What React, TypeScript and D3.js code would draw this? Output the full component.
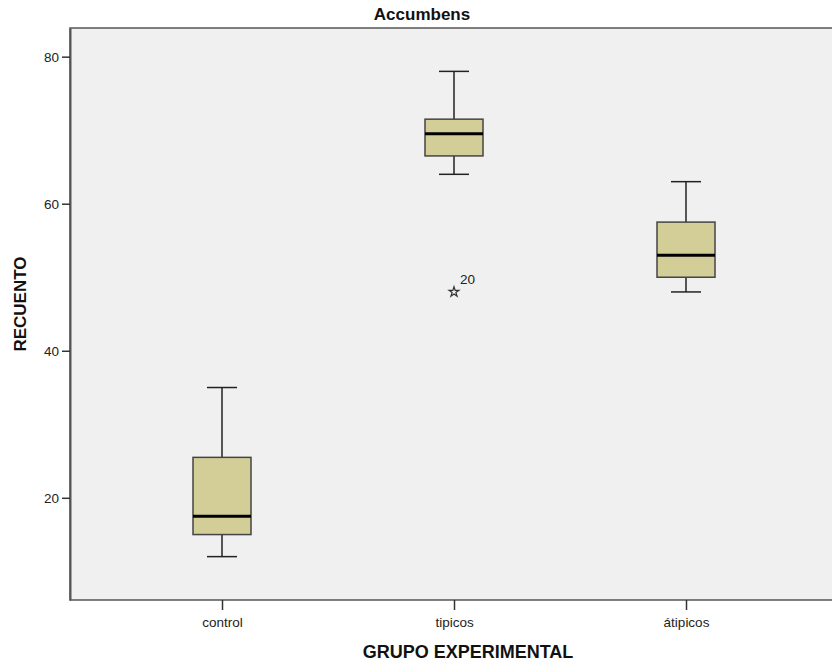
import React, { useEffect, useRef } from 'react';
import * as d3 from 'd3';

// Boxplot summary per group
const groups = ['control', 'tipicos', 'átipicos'];
const whiskerLow = [12, 64, 48];
const q1 = [15, 66.5, 50];
const median = [17.5, 69.5, 53];
const q3 = [25.5, 71.5, 57.5];
const whiskerHigh = [35, 78, 63];
const outliers = [{ group: 'tipicos', value: 48, label: '20' }];
const yTicks = [20, 40, 60, 80];

const W = 832;
const H = 663;

const App: React.FC = () => {
  const svgRef = useRef<SVGSVGElement>(null);

  useEffect(() => {
    document.body.style.margin = '0';
    if (!svgRef.current) return;
    const svg = d3.select(svgRef.current);
    svg.selectAll('*').remove();

    const left = 70;
    const top = 28;
    const bottom = 600;
    const font = '"Liberation Sans", Arial, sans-serif';

    const y = d3.scaleLinear().domain([6.1, 83.9]).range([bottom, top]);
    const x = d3.scalePoint<string>().domain(groups).range([222, 686]);

    // plot background + frame
    svg.append('rect')
      .attr('x', left).attr('y', top)
      .attr('width', W - left + 10).attr('height', bottom - top)
      .attr('fill', '#f0f0f0')
      .attr('stroke', '#555')
      .attr('stroke-width', 1.5);

    // y axis
    const yAxis = svg.append('g')
      .attr('transform', `translate(${left},0)`)
      .call(d3.axisLeft(y).tickValues(yTicks).tickSize(8).tickSizeOuter(0).tickPadding(3));
    yAxis.select('.domain').attr('stroke', '#555').attr('stroke-width', 2);
    yAxis.selectAll('.tick line').attr('stroke', '#333').attr('stroke-width', 1.5);
    yAxis.selectAll('.tick text')
      .attr('fill', '#222').style('font-family', font).style('font-size', '13.5px');

    // x axis
    const xAxis = svg.append('g')
      .attr('transform', `translate(0,${bottom})`)
      .call(d3.axisBottom(x).tickSize(10).tickPadding(7));
    xAxis.select('.domain').remove();
    xAxis.selectAll('.tick line').attr('stroke', '#333').attr('stroke-width', 1.5);
    xAxis.selectAll('.tick text')
      .attr('fill', '#222').style('font-family', font).style('font-size', '13.5px');

    // boxes
    const boxW = 58;
    const capW = 30;
    groups.forEach((g, i) => {
      const cx = x(g)!;
      const b = svg.append('g');
      b.append('line')
        .attr('x1', cx).attr('x2', cx)
        .attr('y1', y(whiskerHigh[i])).attr('y2', y(q3[i]))
        .attr('stroke', '#222').attr('stroke-width', 1.5);
      b.append('line')
        .attr('x1', cx).attr('x2', cx)
        .attr('y1', y(q1[i])).attr('y2', y(whiskerLow[i]))
        .attr('stroke', '#222').attr('stroke-width', 1.5);
      [whiskerHigh[i], whiskerLow[i]].forEach(v => {
        b.append('line')
          .attr('x1', cx - capW / 2).attr('x2', cx + capW / 2)
          .attr('y1', y(v)).attr('y2', y(v))
          .attr('stroke', '#222').attr('stroke-width', 1.5);
      });
      b.append('rect')
        .attr('x', cx - boxW / 2).attr('y', y(q3[i]))
        .attr('width', boxW).attr('height', y(q1[i]) - y(q3[i]))
        .attr('fill', '#d3ce97')
        .attr('stroke', '#444').attr('stroke-width', 1.5);
      b.append('line')
        .attr('x1', cx - boxW / 2).attr('x2', cx + boxW / 2)
        .attr('y1', y(median[i])).attr('y2', y(median[i]))
        .attr('stroke', '#000').attr('stroke-width', 3);
    });

    // extreme outliers
    outliers.forEach(o => {
      const cx = x(o.group)!;
      svg.append('path')
        .attr('transform', `translate(${cx},${y(o.value)})`)
        .attr('d', d3.symbol(d3.symbolStar, 30)())
        .attr('fill', 'none')
        .attr('stroke', '#333')
        .attr('stroke-width', 1.2);
      svg.append('text')
        .attr('x', cx + 6).attr('y', y(o.value) - 8)
        .style('font-family', font).style('font-size', '13.5px')
        .attr('fill', '#222')
        .text(o.label);
    });

    // title and axis titles
    svg.append('text')
      .attr('x', 422).attr('y', 20)
      .attr('text-anchor', 'middle')
      .style('font-family', font).style('font-size', '17px').style('font-weight', 'bold')
      .attr('fill', '#111')
      .text('Accumbens');

    svg.append('text')
      .attr('transform', `translate(26,304) rotate(-90)`)
      .attr('text-anchor', 'middle')
      .style('font-family', font).style('font-size', '17px').style('font-weight', 'bold')
      .attr('fill', '#111')
      .text('RECUENTO');

    svg.append('text')
      .attr('x', 468).attr('y', 658)
      .attr('text-anchor', 'middle')
      .style('font-family', font).style('font-size', '18px').style('font-weight', 'bold')
      .attr('fill', '#111')
      .text('GRUPO EXPERIMENTAL');
  }, []);

  return <svg ref={svgRef} width={W} height={H} style={{ display: 'block', background: '#fff' }} />;
};

export default App;
